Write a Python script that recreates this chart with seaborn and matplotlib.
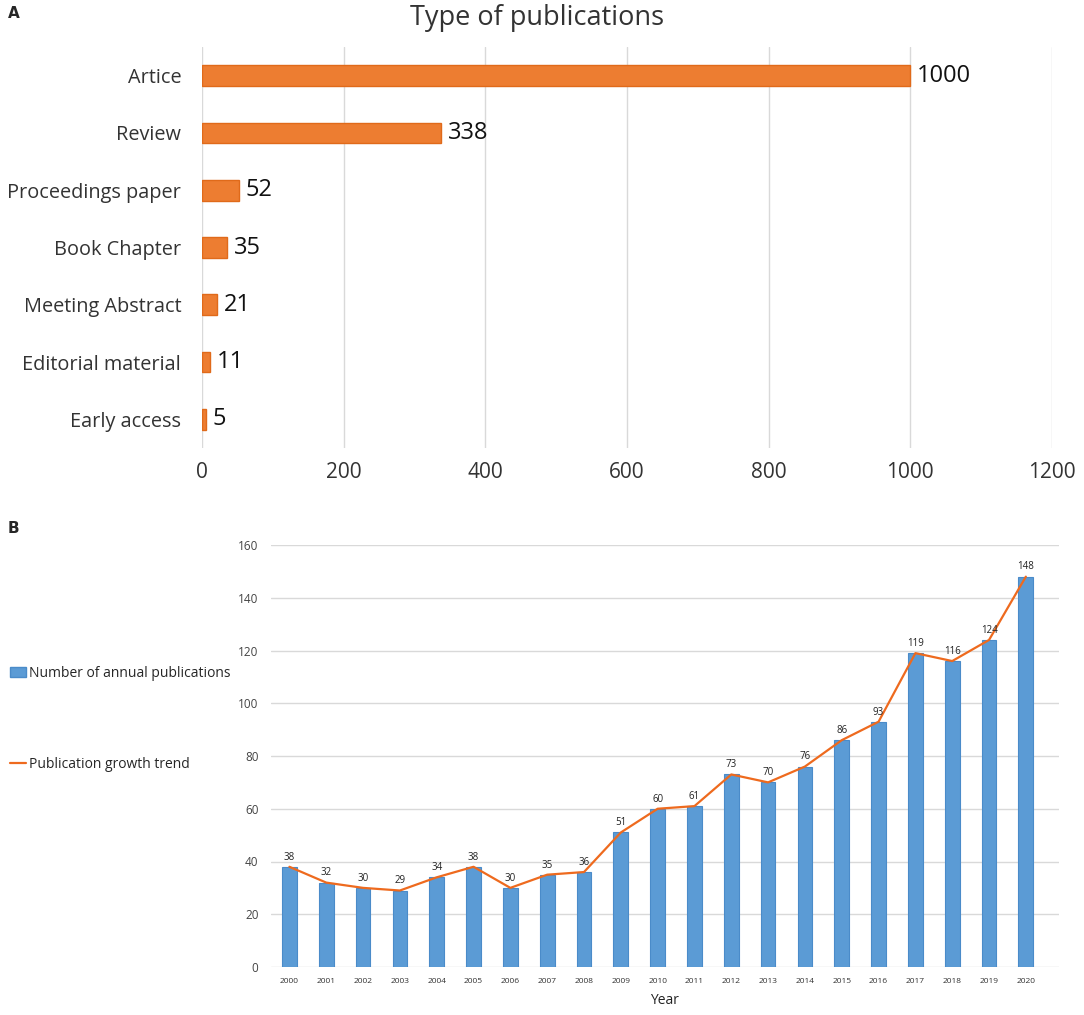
import numpy as np
import matplotlib
matplotlib.use('Agg')
import matplotlib.pyplot as plt
import seaborn as sns
from matplotlib.patches import Patch
from matplotlib.lines import Line2D

# panel A data
pub_types = ['Artice', 'Review', 'Proceedings paper', 'Book Chapter',
             'Meeting Abstract', 'Editorial material', 'Early access']
pub_counts = [1000, 338, 52, 35, 21, 11, 5]

# panel B data
years = [str(y) for y in range(2000, 2021)]
annual_counts = [38, 32, 30, 29, 34, 38, 30, 35, 36, 51, 60, 61, 73, 70, 76,
                 86, 93, 119, 116, 124, 148]

sns.set_style('white')
plt.rcParams['font.family'] = ['Open Sans', 'DejaVu Sans']

W, H = 1084, 1015
fig = plt.figure(figsize=(W / 100, H / 100), dpi=100)

orange = '#ED7D31'
blue = '#5B9BD5'
line_orange = '#EE6A1E'
grid_col = '#D9D9D9'

# ---- panel A
axA = fig.add_axes([202 / W, 1 - 448 / H, 850 / W, 401 / H])
sns.barplot(x=pub_counts, y=pub_types, orient='h', color=orange, ax=axA,
            width=0.36, edgecolor='#E06A1A', linewidth=1, saturation=1)
axA.set_xlim(0, 1200)
axA.set_xticks(range(0, 1201, 200))
axA.xaxis.grid(True, color=grid_col, linewidth=1)
axA.set_axisbelow(True)
for s in axA.spines.values():
    s.set_visible(False)
axA.tick_params(axis='x', labelsize=15, colors='#333333', length=0, pad=10)
axA.tick_params(axis='y', labelsize=14.3, colors='#333333', length=0, pad=15)
axA.bar_label(axA.containers[0], padding=5, fontsize=17, color='#111111')
axA.set_xlabel('')
axA.set_ylabel('')
fig.text(0.495, 1 - 18 / H, 'Type of publications', fontsize=19.5,
         color='#333333', ha='center', va='center')

# ---- panel B
axB = fig.add_axes([271 / W, 1 - 967 / H, 788 / W, 422 / H])
sns.barplot(x=years, y=annual_counts, color=blue, ax=axB, width=0.4,
            edgecolor='#4A8BC9', linewidth=0.8, saturation=1)
sns.lineplot(x=np.arange(len(years)), y=annual_counts, color=line_orange,
             linewidth=1.6, ax=axB)
axB.set_ylim(0, 160)
axB.set_xlim(-0.5, 20.9)
axB.set_yticks(range(0, 161, 20))
axB.yaxis.grid(True, color=grid_col, linewidth=1)
axB.set_axisbelow(True)
for s in axB.spines.values():
    s.set_visible(False)
axB.tick_params(axis='x', labelsize=6, colors='#333333', length=0, pad=8)
axB.tick_params(axis='y', labelsize=8.5, colors='#444444', length=0, pad=9)
axB.bar_label(axB.containers[0], padding=3, fontsize=7, color='#222222')
axB.set_xlabel('Year', fontsize=10, color='#222222', labelpad=6)
axB.set_ylabel('')

handles = [Patch(facecolor=blue, edgecolor='#4A8BC9'),
           Line2D([0], [0], color=line_orange, linewidth=1.6)]
fig.legend(handles, ['Number of annual publications', 'Publication growth trend'],
           loc='upper left', bbox_to_anchor=(0.0, 1 - 656 / H), frameon=False,
           fontsize=10, labelspacing=5.5, handlelength=1.2, handletextpad=0.2,
           borderaxespad=0.3)

# panel letters
fig.text(8 / W, 1 - 18 / H, 'A', fontsize=11, fontweight='bold', family='DejaVu Sans')
fig.text(8 / W, 1 - 533 / H, 'B', fontsize=11, fontweight='bold', family='DejaVu Sans')

fig.savefig('out.png', dpi=100)
